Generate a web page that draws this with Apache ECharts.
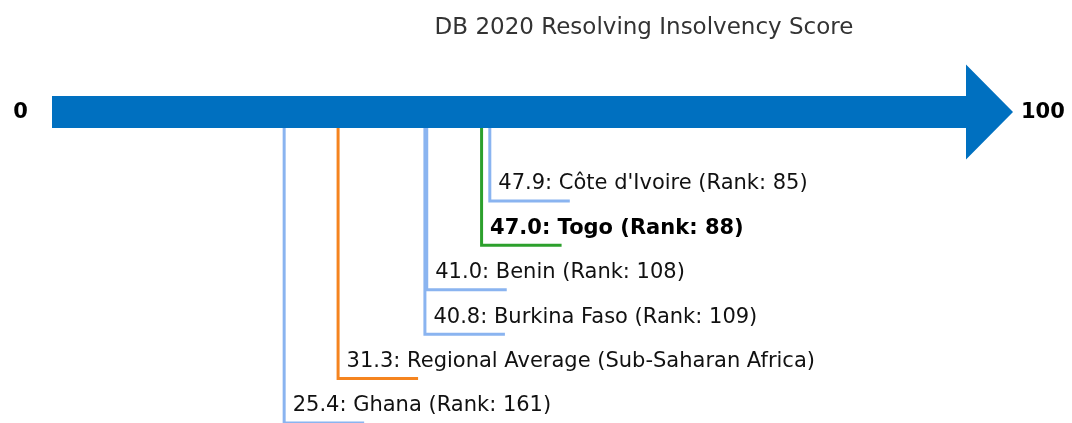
<!DOCTYPE html>
<html>
<head>
<meta charset="utf-8">
<script src="https://cdn.jsdelivr.net/npm/echarts@6/dist/echarts.min.js"></script>
<style>
  html, body { margin: 0; padding: 0; background: #fff; }
  #chart { width: 1072px; height: 423px; }
</style>
</head>
<body>
<div id="chart"></div>
<script>
// Economies placed along the 0-100 score arrow, top row first
const names = ["Côte d'Ivoire", "Togo", "Benin", "Burkina Faso", "Regional Average (Sub-Saharan Africa)", "Ghana"];
const scores = [47.9, 47.0, 41.0, 40.8, 31.3, 25.4];
const ranks = [85, 88, 108, 109, null, 161];
const kinds = ["peer", "focus", "peer", "peer", "region", "peer"];
const endLabels = ["0", "100"];
const titleText = "DB 2020 Resolving Insolvency Score";

const FONT = "DejaVu Sans";
const kindColor = { peer: "#8ab4f0", focus: "#2ca02c", region: "#f5841f" };

const leaderData = scores.map((s, i) => ({
  value: [s, i + 2],
  kind: kinds[i],
  text: ranks[i] == null
    ? s.toFixed(1) + ": " + names[i]
    : s.toFixed(1) + ": " + names[i] + " (Rank: " + ranks[i] + ")"
}));

const chart = echarts.init(document.getElementById("chart"), null, { renderer: "canvas" });

chart.setOption({
  animation: false,
  backgroundColor: "#fff",
  grid: { left: 52, right: 106, top: 1, bottom: 0 },
  xAxis: { type: "value", min: 0, max: 100, show: false },
  yAxis: { type: "value", min: -2.5, max: 7, inverse: true, show: false },
  graphic: [{
    type: "text", x: 644, y: 28,
    style: { text: titleText, align: "center", verticalAlign: "middle",
             font: "23px '" + FONT + "'", fill: "#333" }
  }],
  series: [
    {
      // leader lines with their labels
      type: "custom",
      z: 1,
      clip: false,
      data: leaderData,
      renderItem: function (params, api) {
        const item = leaderData[params.dataIndex];
        const v = api.value(0), row = api.value(1);
        const top = api.coord([v, 0]);
        const p = api.coord([v, row]);
        const color = kindColor[item.kind];
        const bold = item.kind === "focus";
        return {
          type: "group",
          children: [
            {
              type: "polyline",
              shape: { points: [[p[0], top[1]], [p[0], p[1]], [p[0] + 80, p[1]]] },
              style: { stroke: color, lineWidth: 3, fill: null }
            },
            {
              type: "text",
              style: {
                text: item.text, x: p[0] + 8.5, y: p[1] - 17,
                align: "left", verticalAlign: "middle",
                font: (bold ? "bold " : "") + "21px '" + FONT + "'",
                fill: bold ? "#000" : "#111"
              }
            }
          ]
        };
      }
    },
    {
      // the score arrow
      type: "custom",
      z: 2,
      clip: false,
      data: [[0, 100]],
      renderItem: function (params, api) {
        const a = api.coord([api.value(0), 0]);
        const b = api.coord([api.value(1), 0]);
        const y = a[1];
        return {
          type: "group",
          children: [
            {
              type: "polygon",
              shape: { points: [
                [a[0], y - 16], [b[0], y - 16], [b[0], y - 47.5], [b[0] + 47, y],
                [b[0], y + 47.5], [b[0], y + 16], [a[0], y + 16]
              ] },
              style: { fill: "#0070c0" }
            },
            {
              type: "text",
              style: { text: endLabels[0], x: a[0] - 31.5, y: y, align: "center", verticalAlign: "middle",
                       font: "bold 21px '" + FONT + "'", fill: "#000" }
            },
            {
              type: "text",
              style: { text: endLabels[1], x: b[0] + 55, y: y, align: "left", verticalAlign: "middle",
                       font: "bold 21px '" + FONT + "'", fill: "#000" }
            }
          ]
        };
      }
    }
  ]
});
</script>
</body>
</html>
